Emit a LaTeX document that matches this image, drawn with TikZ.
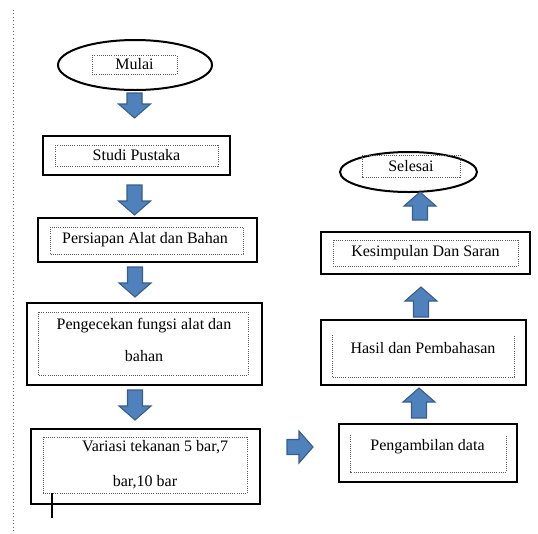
\documentclass[tikz,border=0pt]{standalone}
\usepackage{fontspec}
\setmainfont{Liberation Serif}
\usetikzlibrary{shapes.geometric}

\definecolor{panahbiru}{RGB}{79,129,189}
\definecolor{panahtepi}{RGB}{56,93,138}
\def\px{0.75pt}

\begin{document}
\begin{tikzpicture}[x=0.75pt, y=-0.75pt,
    font=\fontsize{12pt}{14pt}\selectfont,
    kotak/.style = {rectangle, draw, line width=2.2pt,
        inner sep=0pt},
    lonjong/.style = {ellipse, draw, line width=1.5pt,
        inner sep=0pt},
    dalam/.style = {draw=black!65, densely dotted, line width=0.6pt},
    panah/.pic = {
        \filldraw[fill=panahbiru, draw=panahtepi, line width=0.8pt]
            (0,-7.5) -- ({#1-14},-7.5) -- ({#1-14},-16) -- (#1,0)
            -- ({#1-14},16) -- ({#1-14},7.5) -- (0,7.5) -- cycle;
    }]

\useasboundingbox (0,0) rectangle (538,533);

% margin line
\draw[dotted, black!60, line width=0.6pt] (13,10) -- (13,533);

% Left column
\node[lonjong, minimum width=154*\px, minimum height=50*\px] (mulai) at (135,65) {};
\draw[dalam] (92,55) rectangle (177,74);
\node (tmulai) at (134.5,64.5) {Mulai};

\node[kotak, minimum width=187*\px, minimum height=39*\px] (studi) at (136.5,155.5) {};
\draw[dalam] (55,145) rectangle (218,166);
\node (tstudi) at (136.5,155.5) {Studi Pustaka};

\node[kotak, minimum width=219*\px, minimum height=44*\px] (persiapan) at (147.5,240) {};
\draw[dalam] (50,227) rectangle (243,254);
\node (tpersiapan) at (145,240) {Persiapan Alat dan Bahan};

\node[kotak, minimum width=235*\px, minimum height=82*\px] (cek) at (144.5,344) {};
\draw[dalam] (38,312) rectangle (248,375);
\node[align=center] (tcek) at (144,340) {Pengecekan fungsi alat dan\\[10pt]bahan};

\node[kotak, minimum width=229*\px, minimum height=75*\px] (variasi) at (145.5,466.5) {};
\draw[dalam] (43,437) rectangle (247,493);
\node[align=center] (tvariasi) at (145,465) {\hspace{15pt}Variasi tekanan 5 bar,7\\[12pt]bar,10 bar};
\draw[line width=0.8pt] (52,493) -- (52,518);

% Right column
\node[kotak, minimum width=178*\px, minimum height=58*\px] (ambil) at (428,453) {};
\draw[dalam] (350,435) -- (350,472) -- (506,472) -- (506,435);
\node (tambil) at (427.5,447) {Pengambilan data};

\node[kotak, minimum width=205*\px, minimum height=65*\px] (hasil) at (423.5,352.5) {};
\draw[dalam] (332,335) -- (332,377) -- (514,377) -- (514,335);
\node (thasil) at (423,348) {Hasil dan Pembahasan};

\node[kotak, minimum width=209*\px, minimum height=42*\px] (simpul) at (425.5,253) {};
\draw[dalam] (333,240) rectangle (518,266);
\node (tsimpul) at (425.5,253) {Kesimpulan Dan Saran};

\node[lonjong, minimum width=137*\px, minimum height=40*\px] (selesai) at (408.5,172) {};
\draw[dalam] (362,155) rectangle (460,177);
\node (tselesai) at (411,166) {Selesai};

% Block arrows
\pic[rotate=-90] at (134.5,93) {panah=25};
\pic[rotate=-90] at (134.5,185) {panah=30};
\pic[rotate=-90] at (135,267) {panah=30};
\pic[rotate=-90] at (135,390) {panah=30};
\pic at (287,447) {panah=26};
\pic[rotate=90] at (419,418) {panah=30};
\pic[rotate=90] at (421,317) {panah=30};
\pic[rotate=90] at (420,220) {panah=28};
\end{tikzpicture}
\end{document}
